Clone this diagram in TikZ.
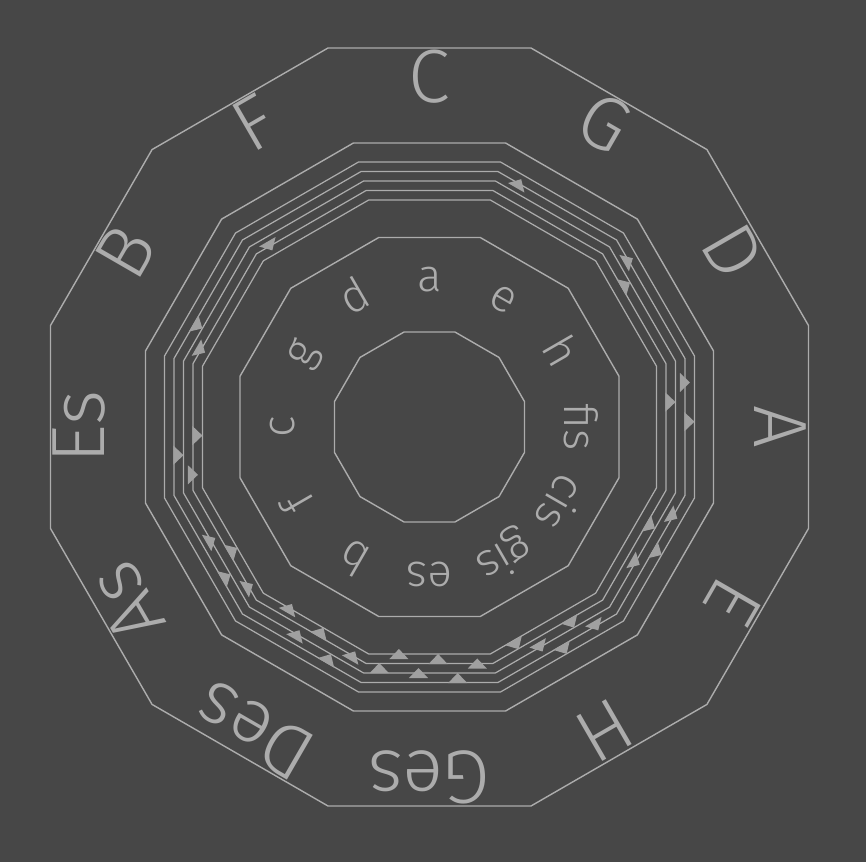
\documentclass[tikz,border=0pt]{standalone}
\usepackage{fontspec}
\IfFontExistsTF{Fira Sans Light}{\setmainfont{Fira Sans Light}}{\setmainfont{Fira Sans}}
\usetikzlibrary{calc}

\definecolor{board}{RGB}{71,71,71}
\definecolor{chalk}{RGB}{172,172,172}
\definecolor{tick}{RGB}{160,160,160}

\begin{document}
\begin{tikzpicture}[x=0.02cm,y=0.02cm,
 rim/.style={draw=chalk,line width=0.8pt},
 staffline/.style={draw=chalk,line width=0.7pt},
 major/.style={text=chalk,font=\fontsize{43}{43}\selectfont,inner sep=0pt,text height=0.69em,text depth=0pt},
 minor/.style={text=chalk,font=\fontsize{26}{26}\selectfont,inner sep=0pt,text height=0.53em,text depth=0pt},
 acc/.style={fill=tick}]

\newcommand{\dodeca}[2][rim] % [style][apothem]
{
 \draw[#1] (15:{#2/cos(15)})
   \foreach \k in {1,...,11} { -- ({15+30*\k}:{#2/cos(15)}) } -- cycle;
}
\newcommand{\acc}[4] % [edge][place][apothem][turn]
{
 \fill[acc,shift={(#1:#3)},shift={({#1+90}:#2)},rotate=#4]
   (5,0) -- (-5,9.5) -- (-5,-9.5) -- cycle;
}

\def\rout {379} \def\rband {284} \def\rmin {189.5} \def\rin {95}
\def\gap {19.6}

\useasboundingbox (-429.5,-435) rectangle (436.5,427);
\fill[board] (-429.5,-435) rectangle (436.5,427);

\dodeca{\rout} \dodeca{\rband} \dodeca{\rmin} \dodeca{\rin}
\foreach \a in {227,236.5,246,255.5,265}
 {\dodeca[staffline]{\a}}

% sharps point outwards: fis cis gis dis ais
\foreach \k in {1,...,5}
 {\foreach \a [count=\i from 0] in {255.5,241,260,246,232}
  {\ifnum\i<\k \acc{90-30*\k}{44.5-\gap*\i}{\a}{90-30*\k} \fi}}

% flats point inwards: b es as des ges ces
\foreach \n in {1,...,6}
 {\foreach \a [count=\i from 0] in {236.5,251,232,246,227,241}
  {\ifnum\i<\n \acc{90+30*\n}{47.8-\gap*\i}{\a}{270+30*\n} \fi}}

\foreach \key [count=\i from 0] in {C,G,D,A,E,H,Ges,Des,As,Es,B,F}
 \node[major,rotate=-30*\i] (dur-\i) at ({90-30*\i}:331) {\key};

\foreach \key [count=\i from 0] in {a,e,h,fis,cis,gis,es,b,f,c,g,d}
 \node[minor,rotate=-30*\i] (moll-\i) at ({90-30*\i}:140) {\key};

\end{tikzpicture}
\end{document}
